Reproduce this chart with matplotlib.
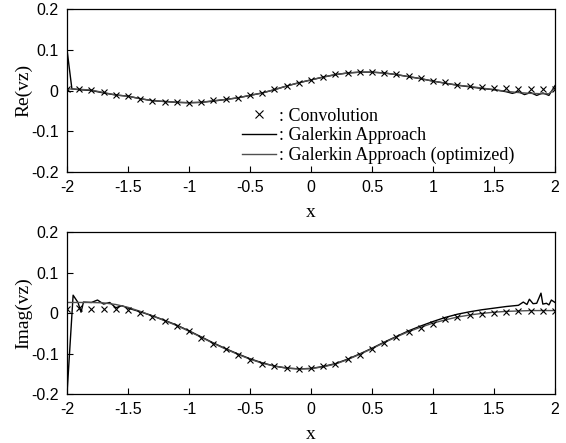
import numpy as np
import matplotlib
matplotlib.use("Agg")
import matplotlib.pyplot as plt

# sample grid of the convolution reference solution
x_conv = np.round(np.arange(-2.0, 2.01, 0.1), 1)

re_conv = [0.003, 0.003, 0.002, -0.004, -0.011, -0.013, -0.020, -0.025, -0.027, -0.028,
           -0.030, -0.028, -0.024, -0.021, -0.018, -0.011, -0.005, 0.003, 0.012, 0.019,
           0.027, 0.034, 0.040, 0.044, 0.046, 0.046, 0.044, 0.040, 0.035, 0.030,
           0.024, 0.020, 0.014, 0.012, 0.008, 0.006, 0.006, 0.003, 0.003, 0.003, 0.003]

im_conv = [0.011, 0.013, 0.011, 0.011, 0.009, 0.007, 0.000, -0.009, -0.020, -0.032,
           -0.045, -0.061, -0.076, -0.090, -0.103, -0.115, -0.125, -0.132, -0.136, -0.139,
           -0.136, -0.132, -0.125, -0.114, -0.103, -0.088, -0.074, -0.060, -0.047, -0.037,
           -0.026, -0.016, -0.010, -0.006, -0.003, 0.001, 0.003, 0.005, 0.005, 0.005, 0.004]

# Galerkin approach, Re part
mid_re = list(np.round(np.arange(-1.9, 1.51, 0.1), 1))
re_gal_x = [-2.0, -1.96] + mid_re + [1.6, 1.65, 1.7, 1.75, 1.8, 1.85, 1.9, 1.95, 2.0]
re_gal = [0.100, 0.004,
          0.002, 0.000, -0.006, -0.011, -0.014, -0.020, -0.025, -0.027, -0.029, -0.030,
          -0.029, -0.026, -0.022, -0.018, -0.012, -0.006, 0.002, 0.011, 0.019, 0.026,
          0.033, 0.039, 0.043, 0.045, 0.045, 0.043, 0.039, 0.034, 0.029, 0.023,
          0.018, 0.013, 0.009, 0.005, 0.002,
          -0.003, -0.007, -0.003, -0.010, -0.005, -0.012, -0.006, -0.012, 0.012]

# Galerkin approach (optimized), Re part
re_opt_x = [-2.0] + mid_re + [1.6, 1.7, 1.8, 1.9, 1.95, 2.0]
re_opt = [0.004,
          0.003, 0.001, -0.005, -0.011, -0.014, -0.020, -0.025, -0.027, -0.029, -0.030,
          -0.029, -0.025, -0.022, -0.018, -0.012, -0.006, 0.002, 0.011, 0.019, 0.026,
          0.033, 0.039, 0.043, 0.045, 0.045, 0.043, 0.039, 0.034, 0.029, 0.023,
          0.018, 0.013, 0.010, 0.006, 0.002,
          -0.002, -0.005, -0.007, -0.008, -0.008, 0.006]

# Galerkin approach, Imag part
mid_im = list(np.round(np.arange(-1.4, 1.41, 0.1), 1))
im_gal_x = ([-2.0, -1.95, -1.91, -1.885, -1.865, -1.8, -1.75, -1.7, -1.65, -1.6, -1.55, -1.5]
            + mid_im
            + [1.5, 1.6, 1.7, 1.74, 1.77, 1.79, 1.82, 1.85, 1.885, 1.9, 1.93, 1.95, 1.97, 2.0])
im_gal = ([-0.200, 0.044, 0.026, 0.002, 0.027, 0.026, 0.032, 0.022, 0.026, 0.013, 0.018, 0.012]
          + [0.003, -0.007, -0.018, -0.030, -0.044, -0.059, -0.074, -0.088, -0.101, -0.113,
             -0.123, -0.131, -0.136, -0.138, -0.137, -0.132, -0.125, -0.114, -0.101, -0.087,
             -0.072, -0.058, -0.044, -0.032, -0.021, -0.011, -0.003, 0.003, 0.008]
          + [0.012, 0.016, 0.019, 0.027, 0.021, 0.034, 0.023, 0.024, 0.049, 0.022, 0.024,
             0.020, 0.032, 0.026])

# Galerkin approach (optimized), Imag part
im_opt = [0.026, 0.026, 0.026, 0.025, 0.021, 0.014, 0.004, -0.007, -0.019, -0.031,
          -0.045, -0.060, -0.075, -0.089, -0.102, -0.114, -0.124, -0.131, -0.136, -0.138,
          -0.137, -0.133, -0.126, -0.115, -0.102, -0.088, -0.073, -0.059, -0.046, -0.035,
          -0.025, -0.017, -0.010, -0.005, -0.001, 0.002, 0.004, 0.005, 0.006, 0.006, 0.006]

serif = "Liberation Serif"
sans = "Liberation Sans"

fig = plt.figure(figsize=(5.66, 4.43), dpi=100)
ax1 = fig.add_axes([0.1184, 0.6117, 0.8622, 0.368])
ax2 = fig.add_axes([0.1184, 0.1106, 0.8622, 0.3657])

panels = [
    (ax1, re_conv, re_gal_x, re_gal, re_opt_x, re_opt, "Re(vz)"),
    (ax2, im_conv, im_gal_x, im_gal, x_conv, im_opt, "Imag(vz)"),
]

for ax, conv, gx, gy, ox, oy, ylab in panels:
    ax.plot(gx, gy, color="black", lw=1.0, label=": Galerkin Approach")
    ax.plot(ox, oy, color="#505050", lw=1.0, label=": Galerkin Approach (optimized)")
    ax.plot(x_conv, conv, linestyle="none", marker="x", color="black",
            markersize=4.5, markeredgewidth=0.8, label=": Convolution")
    ax.set_xlim(-2, 2)
    ax.set_ylim(-0.2, 0.2)
    ax.set_xticks([-2, -1.5, -1, -0.5, 0, 0.5, 1, 1.5, 2])
    ax.set_xticklabels(["-2", "-1.5", "-1", "-0.5", "0", "0.5", "1", "1.5", "2"])
    ax.set_yticks([-0.2, -0.1, 0, 0.1, 0.2])
    ax.set_yticklabels(["-0.2", "-0.1", "0", "0.1", "0.2"])
    ax.tick_params(direction="in", length=4, width=0.8, top=False, right=False,
                   labelsize=11.5, pad=6)
    for lab in ax.get_xticklabels() + ax.get_yticklabels():
        lab.set_fontfamily(sans)
    ax.set_xlabel("x", fontfamily=serif, fontsize=14, labelpad=6)
    ax.set_ylabel(ylab, fontfamily=serif, fontsize=14, labelpad=-1)
    for sp in ax.spines.values():
        sp.set_linewidth(0.9)

handles, labels = ax1.get_legend_handles_labels()
order = [2, 0, 1]
leg = ax1.legend([handles[i] for i in order], [labels[i] for i in order],
                 loc="upper left", bbox_to_anchor=(0.34, 0.45), frameon=False,
                 prop={"family": serif, "size": 13}, handlelength=1.9,
                 handletextpad=0.15, labelspacing=0.15, borderpad=0, numpoints=1)
leg.legend_handles[0].set_markersize(6)

fig.savefig("out.png", dpi=100)
